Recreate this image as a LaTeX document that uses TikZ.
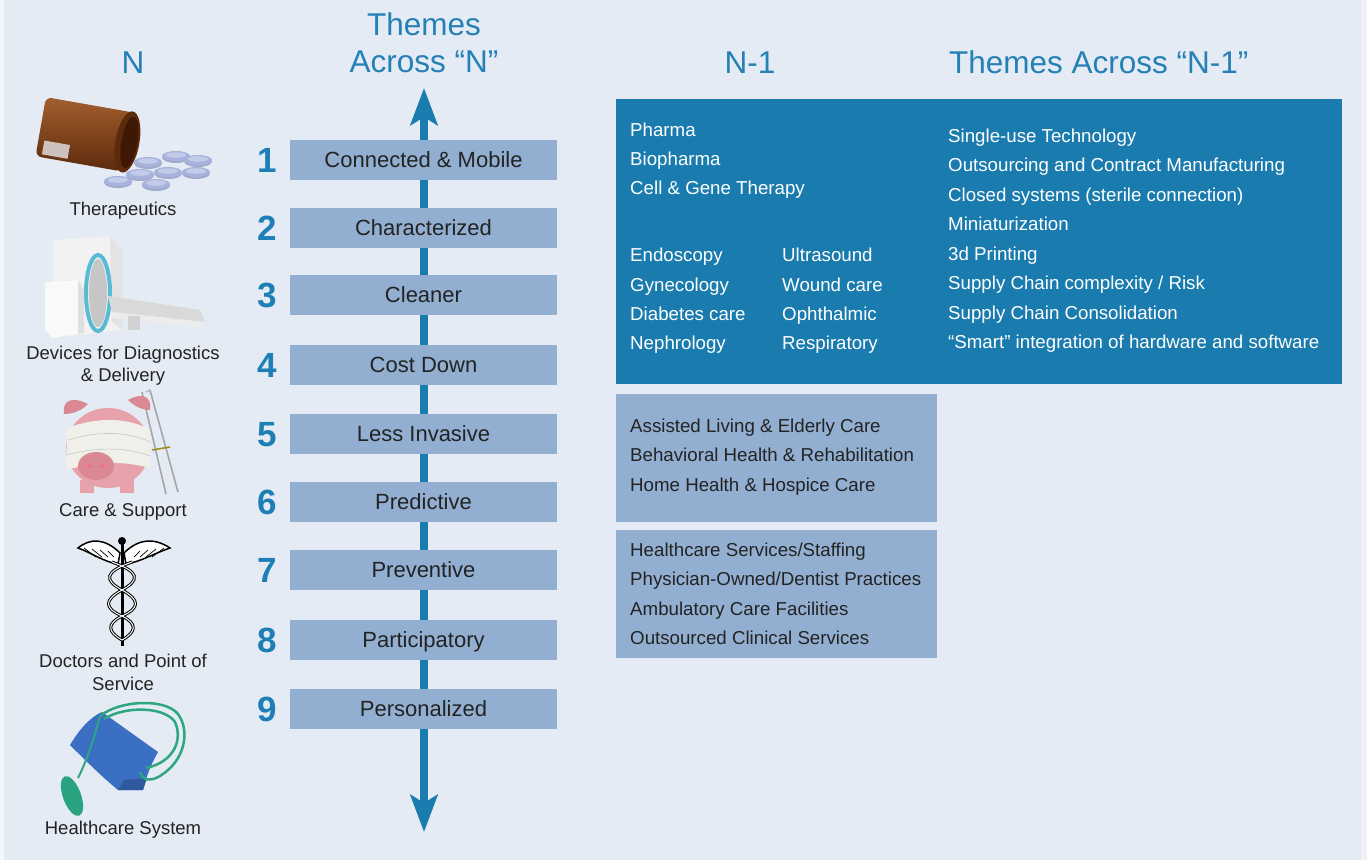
\documentclass[tikz,border=0pt]{standalone}
\usepackage{fontspec}
\setmainfont{Liberation Sans}
\usetikzlibrary{arrows.meta,shapes.geometric}
\definecolor{bg}{HTML}{E4EBF4}
\definecolor{headblue}{HTML}{2480B5}
\definecolor{darkbox}{HTML}{1A7BAE}
\definecolor{lightbox}{HTML}{92AFD1}
\definecolor{txt}{HTML}{232323}
\definecolor{arrowblue}{HTML}{1A7BAE}
\definecolor{numblue}{HTML}{1D7FB5}
\definecolor{amberA}{HTML}{A35E2E}
\definecolor{amberB}{HTML}{5C2A0C}
\definecolor{amberC}{HTML}{3E1805}
\definecolor{pill}{HTML}{A7B3DC}
\definecolor{pillhi}{HTML}{C3CBEA}
\definecolor{pig}{HTML}{E7A2AC}
\definecolor{pigdark}{HTML}{D98894}
\definecolor{bandage}{HTML}{F1EFEA}
\definecolor{cuff}{HTML}{3A6FC4}
\definecolor{tube}{HTML}{2EA67F}
\definecolor{ring}{HTML}{58BBD4}
\tikzset{
  header/.style={font=\fontsize{31.5}{36}\selectfont, text=headblue, inner sep=0, text height=22.5pt, text depth=0pt},
  themebox/.style={fill=lightbox, minimum width=267pt, minimum height=40pt, inner sep=0, font=\fontsize{22}{26}\selectfont, text=txt, text height=15.8pt, text depth=0pt},
  numlabel/.style={font=\bfseries\fontsize{35}{40}\selectfont, text=numblue, inner sep=0, text height=25pt, text depth=0pt},
  wtext/.style={font=\fontsize{18.7}{22}\selectfont, text=white, inner sep=0, anchor=west, text height=13.4pt, text depth=0pt},
  dtext/.style={font=\fontsize{18.7}{22}\selectfont, text=txt, inner sep=0, anchor=west, text height=13.4pt, text depth=0pt},
  nlabel/.style={font=\fontsize{18.5}{23}\selectfont, text=txt, inner sep=0, align=center, text height=13.2pt, text depth=0pt},
  bigarrow/.style={line width=8pt, draw=arrowblue, {Stealth[length=37pt,width=27pt,inset=8pt]}-{Stealth[length=37pt,width=27pt,inset=8pt]}},
}
\begin{document}
\begin{tikzpicture}[x=1pt,y=-1pt]
\useasboundingbox (0,0) rectangle (1367,860);
\fill[bg] (0,0) rectangle (1367,860);
\fill[white!60!bg] (0,0) rectangle (4,860);
\fill[white!40!bg] (1361,0) rectangle (1367,860);

% headers
\node[header] (hN) at (133,62) {N};
\node[header] (hT1) at (424,24) {Themes};
\node[header] (hT2) at (424,61) {Across “N”};
\node[header] (hN1) at (750,62) {N-1};
\node[header, anchor=west] (hT3) at (949,62) {Themes Across “N-1”};

% big arrow
\coordinate (atop) at (424,88);
\coordinate (abot) at (424,832);
\draw[bigarrow] (abot) -- (atop);

% theme boxes
\foreach \i/\y/\t in {1/160/Connected \& Mobile, 2/228/Characterized, 3/295/Cleaner, 4/365/Cost Down, 5/434/Less Invasive, 6/502/Predictive, 7/570/Preventive, 8/640/Participatory, 9/709/Personalized}{
  \node[themebox] (b\i) at (423.5,\y) {\t};
  \node[numlabel] (n\i) at (267,\y) {\i};
}

% dark box
\fill[darkbox] (616,99) rectangle (1342,384);
\node[wtext] (p1) at (630,129.5) {Pharma};
\node[wtext] (p2) at (630,158.5) {Biopharma};
\node[wtext] (p3) at (630,187.5) {Cell \& Gene Therapy};
\foreach \n/\y/\a/\b in {1/255/Endoscopy/Ultrasound, 2/284.5/Gynecology/Wound care, 3/313.5/Diabetes care/Ophthalmic, 4/342.5/Nephrology/Respiratory}{
  \node[wtext] (m\n a) at (630,\y) {\a};
  \node[wtext] (m\n b) at (782,\y) {\b};
}
\node[wtext] (r1) at (948,135.5) {Single-use Technology};
\node[wtext] (r2) at (948,165) {Outsourcing and Contract Manufacturing};
\node[wtext] (r3) at (948,194.5) {Closed systems (sterile connection)};
\node[wtext] (r4) at (948,224) {Miniaturization};
\node[wtext] (r5) at (948,253.5) {3d Printing};
\node[wtext] (r6) at (948,283) {Supply Chain complexity / Risk};
\node[wtext] (r7) at (948,312.5) {Supply Chain Consolidation};
\node[wtext] (r8) at (948,342) {“Smart” integration of hardware and software};

% light boxes
\fill[lightbox] (616,394) rectangle (937,522);
\node[dtext] (c1) at (630,425.5) {Assisted Living \& Elderly Care};
\node[dtext] (c2) at (630,455) {Behavioral Health \& Rehabilitation};
\node[dtext] (c3) at (630,484.5) {Home Health \& Hospice Care};
\fill[lightbox] (616,530) rectangle (937,658);
\node[dtext] (d1) at (630,549.5) {Healthcare Services/Staffing};
\node[dtext] (d2) at (630,579) {Physician-Owned/Dentist Practices};
\node[dtext] (d3) at (630,608.5) {Ambulatory Care Facilities};
\node[dtext] (d4) at (630,638) {Outsourced Clinical Services};

% N column labels
\node[nlabel] (l1) at (123,209) {Therapeutics};
\node[nlabel] (l2a) at (123,352.5) {Devices for Diagnostics};
\node[nlabel] (l2b) at (123,375) {\& Delivery};
\node[nlabel] (l3) at (123,510) {Care \& Support};
\node[nlabel] (l4a) at (123,661) {Doctors and Point of};
\node[nlabel] (l4b) at (123,683.5) {Service};
\node[nlabel] (l5) at (123,828) {Healthcare System};

% icon: pill bottle
\begin{scope}[rotate around={-10:(88,135)}]
  \shade[top color=amberA, bottom color=amberB] (40,105) [rounded corners=6pt] -- (40,165) -- (128,165) [sharp corners] -- (128,105) [rounded corners=6pt] -- cycle;
  \fill[white!80!gray, opacity=0.8] (46,148) rectangle (72,162);
  \fill[amberB] (128,135) ellipse (12 and 31);
  \fill[amberC] (130,135) ellipse (8 and 26);
\end{scope}
\foreach \px/\py in {148/162, 176/156, 198/160, 140/174, 168/172, 118/181, 196/172, 156/184}{
  \fill[pill!85!gray] (\px,\py+1.5) ellipse (14 and 5.5);
  \fill[pill] (\px,\py) ellipse (14 and 5);
  \fill[pillhi] (\px,\py-1) ellipse (10 and 2.8);
}

% icon: scanner
\fill[gray!10] (53,240) -- (110,236) -- (122,250) -- (122,330) -- (70,336) -- (53,325) -- cycle;
\fill[gray!22] (110,236) -- (122,250) -- (122,330) -- (112,322) -- cycle;
\draw[ring, line width=4pt] (98,293) ellipse (12 and 38);
\fill[gray!45] (98,293) ellipse (9 and 34);
\fill[gray!25] (45,282) -- (78,280) -- (84,290) -- (84,333) -- (52,338) -- (45,330) -- cycle;
\fill[white!95!gray] (45,282) -- (78,280) -- (78,334) -- (52,338) -- (45,330) -- cycle;
\fill[gray!30] (108,296) -- (200,310) -- (205,322) -- (112,312) -- cycle;
\fill[gray!15] (112,312) -- (205,322) -- (204,328) -- (112,318) -- cycle;
\fill[gray!35] (128,316) rectangle (140,330);

% icon: piggy bank with crutches
\draw[gray!70, line width=1.6pt] (142,392) -- (166,494);
\draw[gray!70, line width=1.6pt] (150,390) -- (178,492);
\draw[gray!60, line width=1.2pt] (146,392) -- (150,390);
\draw[olive!70!brown, line width=1.5pt] (152,450) -- (170,447);
\fill[pig] (80,493) rectangle (94,480);
\fill[pig] (120,493) rectangle (134,480);
\fill[pig] (108,448) ellipse (42 and 40);
\fill[pigdark] (64,414) .. controls (62,400) and (72,396) .. (88,404) .. controls (82,410) and (74,414) .. (64,414) -- cycle;
\fill[pigdark] (150,410) .. controls (152,396) and (142,392) .. (128,400) .. controls (134,406) and (142,410) .. (150,410) -- cycle;
\fill[bandage] (67,428) .. controls (100,416) and (130,418) .. (150,430) -- (150,468) .. controls (120,460) and (95,462) .. (66,470) -- cycle;
\draw[gray!45, line width=0.6pt] (68,440) .. controls (100,430) and (130,432) .. (150,442);
\draw[gray!45, line width=0.6pt] (66,455) .. controls (100,446) and (130,448) .. (150,456);
\fill[pigdark] (96,466) ellipse (18 and 14);
\fill[pig!70!red] (90,466) circle (2);
\fill[pig!70!red] (102,466) circle (2);

% icon: caduceus
\draw[black, line width=3pt] (122,540) -- (122,646);
\fill[black] (122,541) circle (4);
\draw[black, line width=1.5pt, fill=white] (120,553) .. controls (105,538) and (90,538) .. (78,548) .. controls (92,553) and (104,562) .. (118,564) -- cycle;
\draw[black, line width=1.5pt, fill=white] (124,553) .. controls (139,538) and (155,538) .. (170,548) .. controls (155,553) and (140,562) .. (126,564) -- cycle;
\foreach \k in {0,1,2,3}{
  \draw[black, line width=0.7pt] (84+\k*8,548+\k*1) -- (96+\k*6,557);
  \draw[black, line width=0.7pt] (164-\k*8,548+\k*1) -- (152-\k*6,557);
}
\draw[black, line width=3pt] (112,562) .. controls (140,572) and (140,580) .. (122,590) .. controls (104,600) and (104,608) .. (122,616) .. controls (138,624) and (136,632) .. (122,640);
\draw[black, line width=3pt] (132,562) .. controls (104,572) and (104,580) .. (122,590) .. controls (140,600) and (140,608) .. (122,616) .. controls (106,624) and (108,632) .. (122,640);
\draw[white, line width=1pt] (112,562) .. controls (140,572) and (140,580) .. (122,590) .. controls (104,600) and (104,608) .. (122,616) .. controls (138,624) and (136,632) .. (122,640);
\draw[white, line width=1pt] (132,562) .. controls (104,572) and (104,580) .. (122,590) .. controls (140,600) and (140,608) .. (122,616) .. controls (106,624) and (108,632) .. (122,640);

% icon: blood pressure cuff
\fill[cuff] (70,745) .. controls (80,728) and (92,716) .. (102,712) -- (158,752) .. controls (150,766) and (146,778) .. (143,790) -- (118,790) .. controls (100,775) and (85,760) .. (70,745) -- cycle;
\fill[cuff!80!black] (143,790) -- (118,790) -- (124,780) -- (147,778) -- cycle;
\draw[tube, line width=2.5pt] (100,716) .. controls (120,700) and (165,698) .. (178,714) .. controls (190,730) and (186,760) .. (160,776) .. controls (150,782) and (142,780) .. (140,772);
\draw[tube, line width=2.5pt] (104,719) .. controls (124,706) and (164,706) .. (175,722) .. controls (183,740) and (174,762) .. (146,768);
\draw[tube, line width=2pt] (100,716) .. controls (94,738) and (88,758) .. (78,778);
\fill[tube!90!teal] (72,796) ellipse [x radius=9, y radius=21, rotate=20];
\end{tikzpicture}
\end{document}
